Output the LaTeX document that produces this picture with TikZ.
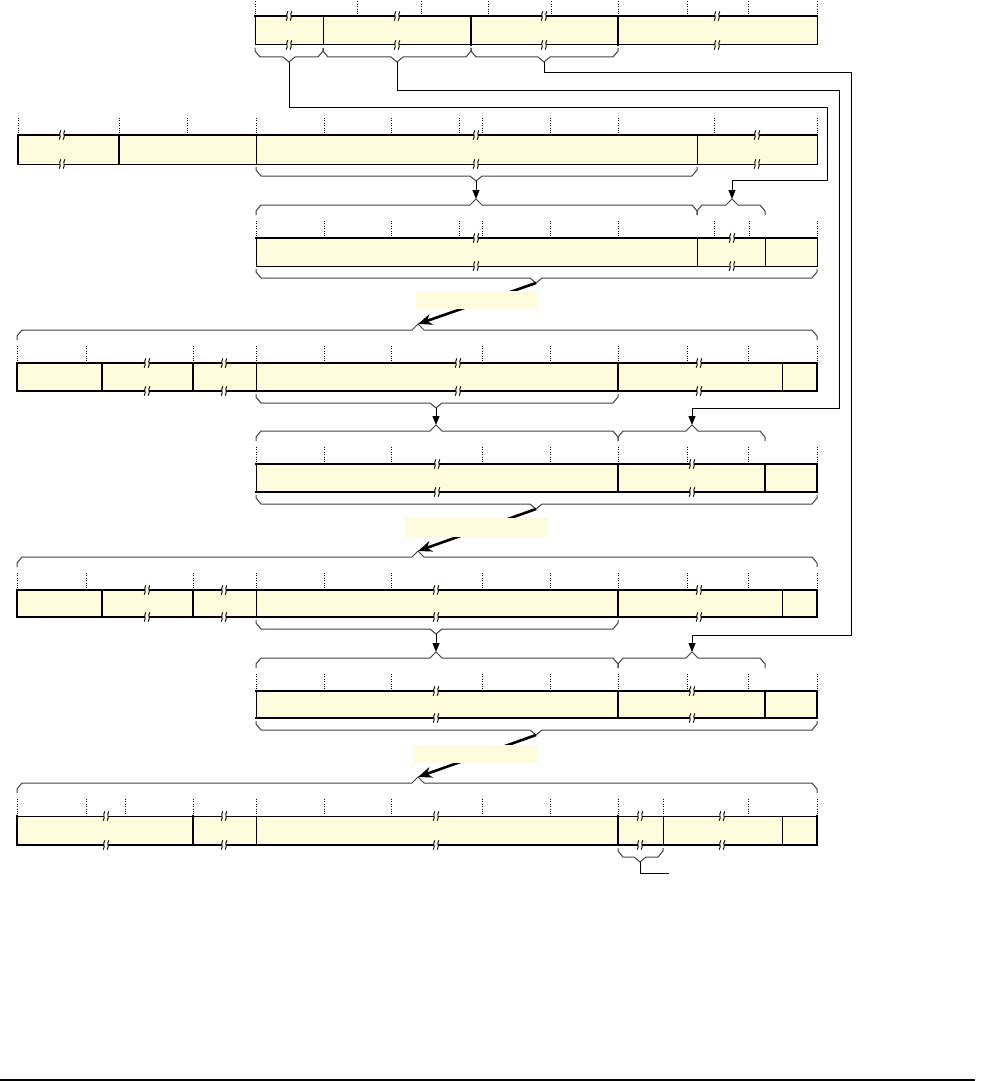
\documentclass[tikz,border=0pt]{standalone}
\usetikzlibrary{arrows.meta}
\definecolor{boxfill}{RGB}{255,251,220}
\newcommand{\mkticks}[2]{\foreach \t in {#2}{\draw[tickline] (\t,#1-17) -- (\t,#1);}}
\newcommand{\brk}[2]{%
  \fill[boxfill] (#1-1.8,#2-3) rectangle (#1+1.8,#2+3);
  \draw[brkline] (#1-1.2,#2-4.5) .. controls (#1-3.6,#2-1) and (#1-0.4,#2+1) .. (#1-2.8,#2+4.5);
  \draw[brkline] (#1+2.8,#2-4.5) .. controls (#1+0.4,#2-1) and (#1+3.6,#2+1) .. (#1+1.2,#2+4.5);}
\newcommand{\mkbrks}[3]{\foreach \b in {#3}{\brk{\b}{#1}\brk{\b}{#2}}}
\newcommand{\bbrace}[5]{%
  \draw[bracestyle] (#1,#4+3) -- (#1,#4+6) -- (#1+5,#4+12) -- (#3-6,#4+12) -- (#3,#4+17) -- (#3+6,#4+12) -- (#2-5,#4+12) -- (#2,#4+6) -- (#2,#4+3);
  \coordinate (#5) at (#3,#4+17);}
\newcommand{\tbrace}[5]{%
  \draw[bracestyle] (#1,#4-23) -- (#1,#4-27) -- (#1+5,#4-33) -- (#3-6,#4-33) -- (#3,#4-39) -- (#3+6,#4-33) -- (#2-5,#4-33) -- (#2,#4-27) -- (#2,#4-23);
  \coordinate (#5) at (#3,#4-39);}
\begin{document}
\begin{tikzpicture}[x=1pt,y=-1pt,
  tickline/.style={line width=0.8pt, dash pattern=on 0.8pt off 1.6pt},
  thk/.style={line width=2.5pt, line cap=rect},
  thn/.style={line width=1pt, line cap=rect},
  bracestyle/.style={line width=1pt, draw=black!75},
  conn/.style={line width=1pt},
  smallarrow/.style={conn, -{Triangle[length=9pt,width=7pt]}},
  bigarrow/.style={line width=2.6pt, -{Stealth[length=14pt,width=11pt]}},
  lbl/.style={fill=boxfill, inner sep=0pt, draw=none},
  brkline/.style={line width=0.9pt, line cap=round}]
\useasboundingbox (0,0) rectangle (985,1081);

% ---------- ticks ----------
\mkticks{16}{255,357,421,488,551,618,687,748,817}
\mkticks{135}{18,119,187,256,324,391,459,482,550,618,714,817}
\mkticks{238}{256,324,391,459,482,550,618,714,749,817}
\mkticks{363}{17,86,193,256,324,391,482,550,618,687,748,817}
\mkticks{464}{256,324,391,482,550,618,687,748,817}
\mkticks{590}{17,86,193,256,324,391,482,550,618,687,748,817}
\mkticks{691}{256,324,391,482,550,618,687,748,817}
\mkticks{816}{17,86,125,193,256,324,391,482,550,618,663,748,817}

% ---------- row 1 ----------
\fill[boxfill] (255,16) rectangle (817,45);
\draw[thk] (255,16) -- (817,16);
\draw[thn] (255,45) -- (817,45);
\foreach \v in {255,323,817} \draw[thn] (\v,16) -- (\v,45);
\foreach \v in {471,618} \draw[thk] (\v,16) -- (\v,45);
\mkbrks{16}{45}{289,397,544,717}

% ---------- row 2 ----------
\fill[boxfill] (18,135) rectangle (817,164);
\draw[thk] (18,135) -- (817,135);
\draw[thn] (18,164) -- (817,164);
\foreach \v in {256,697,817} \draw[thn] (\v,135) -- (\v,164);
\foreach \v in {18,119} \draw[thk] (\v,135) -- (\v,164);
\mkbrks{135}{164}{62,476,757}

% ---------- row 3 ----------
\fill[boxfill] (256,238) rectangle (817,266);
\draw[thk] (256,238) -- (817,238);
\draw[thn] (256,266) -- (817,266);
\foreach \v in {256,697,765,817} \draw[thn] (\v,238) -- (\v,266);
\mkbrks{238}{266}{476,732}

% ---------- row 4 ----------
\fill[boxfill] (17,363) rectangle (817,391);
\draw[thk] (17,363) -- (817,363);
\draw[thk] (17,391) -- (817,391);
\foreach \v in {256,782} \draw[thn] (\v,363) -- (\v,391);
\foreach \v in {17,102,193,618,817} \draw[thk] (\v,363) -- (\v,391);
\mkbrks{363}{391}{147,224,458,699}

% ---------- row 5 ----------
\fill[boxfill] (256,464) rectangle (817,492);
\draw[thk] (256,464) -- (817,464);
\draw[thk] (256,492) -- (817,492);
\foreach \v in {256} \draw[thn] (\v,464) -- (\v,492);
\foreach \v in {618,765,817} \draw[thk] (\v,464) -- (\v,492);
\mkbrks{464}{492}{437,692}

% ---------- row 6 ----------
\fill[boxfill] (17,590) rectangle (817,617);
\draw[thk] (17,590) -- (817,590);
\draw[thk] (17,617) -- (817,617);
\foreach \v in {256,782} \draw[thn] (\v,590) -- (\v,617);
\foreach \v in {17,102,193,618,817} \draw[thk] (\v,590) -- (\v,617);
\mkbrks{590}{617}{147,224,436,699}

% ---------- row 7 ----------
\fill[boxfill] (256,691) rectangle (817,718);
\draw[thk] (256,691) -- (817,691);
\draw[thk] (256,718) -- (817,718);
\foreach \v in {256} \draw[thn] (\v,691) -- (\v,718);
\foreach \v in {618,765,817} \draw[thk] (\v,691) -- (\v,718);
\mkbrks{691}{718}{436,692}

% ---------- row 8 ----------
\fill[boxfill] (17,816) rectangle (817,845);
\draw[thn] (17,816) -- (817,816);
\draw[thk] (17,845) -- (817,845);
\foreach \v in {256,663,782} \draw[thn] (\v,816) -- (\v,845);
\foreach \v in {17,193,618,817} \draw[thk] (\v,816) -- (\v,845);
\mkbrks{816}{845}{106,224,436,640,722}

% ---------- braces ----------
\bbrace{255}{323}{289}{45}{t1a}
\bbrace{323}{471}{397}{45}{t1b}
\bbrace{471}{618}{544}{45}{t1c}
\bbrace{256}{697}{476}{164}{t2}
\tbrace{256}{697}{476}{238}{c3a}
\tbrace{697}{765}{732}{238}{c3b}
\bbrace{256}{817}{536}{266}{t3}
\tbrace{17}{817}{418}{363}{c4}
\bbrace{256}{618}{436}{391}{t4}
\tbrace{256}{618}{436}{464}{c5a}
\tbrace{618}{765}{692}{464}{c5b}
\bbrace{256}{817}{536}{492}{t5}
\tbrace{17}{817}{418}{590}{c6}
\bbrace{256}{618}{436}{617}{t6}
\tbrace{256}{618}{436}{691}{c7a}
\tbrace{618}{765}{692}{691}{c7b}
\bbrace{256}{817}{536}{718}{t7}
\tbrace{17}{817}{418}{816}{c8}
\bbrace{618}{663}{640}{845}{t8}

% ---------- connectors ----------
\coordinate (e8) at (669,873);
\draw[smallarrow] (t1a) |- (827,107) |- (732,180) -- (c3b);
\draw[smallarrow] (t1b) |- (839,90) |- (692,408) -- (c5b);
\draw[smallarrow] (t1c) |- (851,72) |- (692,635) -- (c7b);
\draw[smallarrow] (t2) -- (c3a);
\draw[smallarrow] (t4) -- (c5a);
\draw[smallarrow] (t6) -- (c7a);
\draw[conn] (t8) |- (e8);

\draw[bigarrow] (t3) -- (c4);
\draw[bigarrow] (t5) -- (c6);
\draw[bigarrow] (t7) -- (c8);

\node[lbl, minimum width=121pt, minimum height=18pt] (L1) at (476.5,300) {};
\node[lbl, minimum width=143pt, minimum height=19pt] (L2) at (476.5,527) {};
\node[lbl, minimum width=124pt, minimum height=18pt] (L3) at (476,753.5) {};

% ---------- bottom rule ----------
\draw[line width=2pt] (0,1080) -- (975,1080);
\end{tikzpicture}
\end{document}
